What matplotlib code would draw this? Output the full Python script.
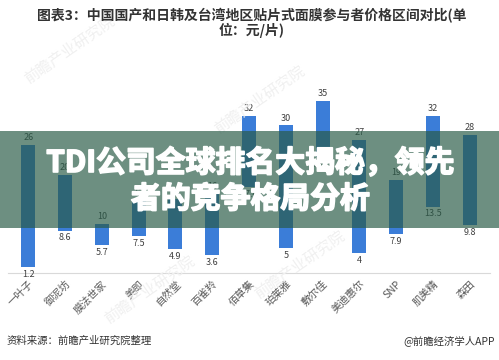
import matplotlib
matplotlib.use("Agg")
import matplotlib.pyplot as plt
from matplotlib.patches import Rectangle
import matplotlib.patheffects as pe

plt.rcParams['font.family'] = ['Noto Sans CJK SC', 'DejaVu Sans']

brands = ['一叶子', '御泥坊', '膜法世家', '美即', '自然堂', '百雀羚', '佰草集',
          '珀莱雅', '敷尔佳', '美迪惠尔', 'SNP', '肌美精', '森田']
price_high = [26, 20, 10, 15, 15, 16, 32, 30, 35, 27, 19, 32, 28]
price_low = [1.2, 8.6, 5.7, 7.5, 4.9, 3.6, 17.4, 5, 23.5, 4, 7.9, 13.5, 9.8]

title = '图表3：中国国产和日韩及台湾地区贴片式面膜参与者价格区间对比(单\n位：元/片)'
banner = 'TDI公司全球排名大揭秘，领先\n者的竞争格局分析'
source = '资料来源：前瞻产业研究院整理'
credit = '@前瞻经济学人APP'

W, H = 499, 360
fig = plt.figure(figsize=(W / 100, H / 100), dpi=100)
fig.patch.set_facecolor('white')

# faint watermarks behind the chart
for wx, wy in [(70, 50), (260, 100), (300, 265), (150, 290)]:
    fig.text(wx / W, 1 - wy / H, '前瞻产业研究院', rotation=35, ha='center',
             va='center', fontsize=11, color='#f0f0f0', zorder=0)

ax = fig.add_axes([0.016, 87 / H, 0.966, (273 - 86) / H])
x = range(len(brands))
heights = [h - l for h, l in zip(price_high, price_low)]
ax.bar(x, heights, bottom=price_low, width=0.38, color='#3b7dd8', zorder=2)

for i, (hi, lo) in enumerate(zip(price_high, price_low)):
    ax.annotate(f'{hi:g}', (i, hi), xytext=(0, 2), textcoords='offset points',
                ha='center', va='bottom', fontsize=6.5, color='#404040')
    ax.annotate(f'{lo:g}', (i, lo), xytext=(0, -2), textcoords='offset points',
                ha='center', va='top', fontsize=6.5, color='#404040')

ax.set_xlim(-0.55, len(brands) - 0.45)
ax.set_ylim(0, 38)
ax.set_yticks([])
ax.set_xticks(list(x))
ax.set_xticklabels(brands, rotation=45, ha='right', rotation_mode='anchor',
                   fontsize=7.5, color='#5a5a5a')
ax.tick_params(axis='x', length=0, pad=4)
for side in ['top', 'right', 'left']:
    ax.spines[side].set_visible(False)
ax.spines['bottom'].set_color('#d9d9d9')
ax.spines['bottom'].set_linewidth(0.8)
ax.patch.set_alpha(0)

# chart heading
fig.text(0.505, 1 - 23 / H, title, ha='center', va='center', fontsize=10,
         fontweight='bold', color='#333333', linespacing=0.95)

# overlay band with headline
fig.patches.append(Rectangle((0, 1 - 228 / H), 1, 97 / H, transform=fig.transFigure,
                             facecolor=(40 / 255, 90 / 255, 70 / 255), alpha=0.68,
                             edgecolor='none', zorder=5))
fig.text(0.502, 1 - 181 / H, banner, ha='center', va='center', fontsize=21.5,
         fontweight='black', color='white', linespacing=1.25, zorder=6,
         path_effects=[pe.withStroke(linewidth=1.2, foreground='white')])

# footer
fig.text(7 / W, 1 - 341 / H, source, ha='left', va='center', fontsize=7.5, color='#333333')
fig.text(495 / W, 1 - 341 / H, credit, ha='right', va='center', fontsize=7.5, color='#333333')

fig.savefig('out.png', dpi=100)
